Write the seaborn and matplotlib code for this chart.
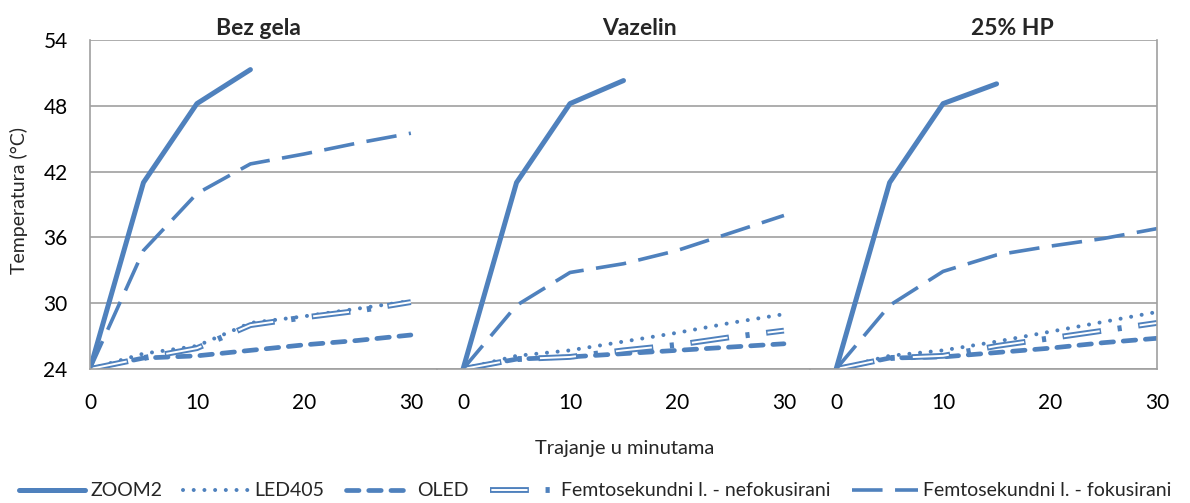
import matplotlib.pyplot as plt
import seaborn as sns
import numpy as np
from matplotlib.legend_handler import HandlerTuple

# measurement times (minutes)
minutes = [0, 5, 10, 15, 20, 25, 30]
zoom_minutes = [0, 5, 10, 15]
panels = ['Bez gela', 'Vazelin', '25% HP']

# temperatures per panel (Bez gela, Vazelin, 25% HP)
zoom2 = [[24, 41.0, 48.2, 51.3],
         [24, 41.0, 48.2, 50.3],
         [24, 41.0, 48.2, 50.0]]
led405 = [[24, 25.4, 26.1, 28.2, 28.8, 29.5, 30.2],
          [24, 25.2, 25.7, 26.5, 27.3, 28.2, 29.0],
          [24, 25.2, 25.7, 26.5, 27.4, 28.3, 29.2]]
oled = [[24, 25.0, 25.2, 25.7, 26.2, 26.6, 27.1],
        [24, 24.9, 25.1, 25.4, 25.7, 26.0, 26.3],
        [24, 25.0, 25.1, 25.5, 25.9, 26.4, 26.8]]
femto_nef = [[24, 25.0, 25.9, 28.0, 28.7, 29.3, 30.1],
             [24, 24.9, 25.1, 25.7, 26.2, 26.9, 27.5],
             [24, 25.0, 25.2, 26.1, 26.8, 27.5, 28.2]]
femto_fok = [[24, 34.8, 40.0, 42.7, 43.6, 44.6, 45.5],
             [24, 29.8, 32.8, 33.6, 34.8, 36.4, 38.0],
             [24, 29.8, 32.9, 34.4, 35.2, 35.9, 36.8]]

labels = ['ZOOM2', 'LED405', 'OLED', 'Femtosekundni l. - nefokusirani',
          'Femtosekundni l. - fokusirani']

sns.set_theme(style='white')
plt.rcParams['font.family'] = ['Lato', 'DejaVu Sans']
plt.rcParams['lines.scale_dashes'] = False

blue = '#4F81BD'
grid_col = '#a0a0a0'

fig, axes = plt.subplots(1, 3, figsize=(11.9, 5.03), dpi=100, sharey=True,
                         gridspec_kw={'width_ratios': [32.44, 34.88, 32.44], 'wspace': 0})
fig.subplots_adjust(left=0.0756, right=0.9723, top=0.9205, bottom=0.2664)

xlims = [(0, 32.44), (-2.44, 32.44), (-2.44, 30)]
title_x = [15.75, 16.5, 16.5]

for i, ax in enumerate(axes):
    sns.lineplot(x=zoom_minutes, y=zoom2[i], ax=ax, color=blue, lw=3.6,
                 errorbar=None, legend=False, label=labels[0])
    sns.lineplot(x=minutes, y=led405[i], ax=ax, color=blue, lw=2.9,
                 linestyle=(0, (0.01, 7.7)), dash_capstyle='round',
                 errorbar=None, legend=False, label=labels[1])
    sns.lineplot(x=minutes, y=oled[i], ax=ax, color=blue, lw=3.4,
                 linestyle=(0, (9, 7)), dash_capstyle='round',
                 errorbar=None, legend=False, label=labels[2])
    # double (hollow) line: thick blue dash-dot with thin white core
    sns.lineplot(x=minutes, y=femto_nef[i], ax=ax, color=blue, lw=4.2,
                 linestyle=(0, (28, 12, 3, 12)), errorbar=None, legend=False,
                 label=labels[3])
    sns.lineplot(x=minutes, y=femto_nef[i], ax=ax, color='white', lw=1.4,
                 linestyle=(54, (26, 29)), errorbar=None, legend=False)
    sns.lineplot(x=minutes, y=femto_fok[i], ax=ax, color=blue, lw=2.6,
                 linestyle=(0, (22, 9)), errorbar=None, legend=False, label=labels[4])

    ax.set_xlim(*xlims[i])
    ax.set_ylim(24, 54)
    ax.set_xticks([0, 10, 20, 30])
    ax.set_yticks(np.arange(24, 55, 6))
    ax.yaxis.grid(True, color=grid_col, lw=1.2)
    ax.xaxis.grid(False)
    ax.set_axisbelow(True)
    ax.tick_params(length=0, labelsize=15, colors='black')
    ax.tick_params(axis='x', pad=17)
    ax.tick_params(axis='y', pad=16)
    ax.set_xlabel('')
    ax.set_ylabel('')
    for side in ['top', 'left', 'right']:
        ax.spines[side].set_visible(False)
    ax.spines['bottom'].set_color(grid_col)
    ax.spines['bottom'].set_linewidth(1.2)
    ax.text(title_x[i], 54.45, panels[i], ha='center', va='baseline',
            fontsize=16.5, fontweight='bold')

axes[0].spines['left'].set_visible(True)
axes[0].spines['left'].set_color(grid_col)
axes[0].spines['left'].set_linewidth(1.2)
axes[2].spines['right'].set_visible(True)
axes[2].spines['right'].set_color(grid_col)
axes[2].spines['right'].set_linewidth(1.2)

fig.text(19 / 1190, 1 - 200 / 503, 'Temperatura (°C)', rotation=90,
         ha='center', va='center', fontsize=14)
fig.text(625 / 1190, 1 - 454 / 503, 'Trajanje u minutama', ha='center',
         va='baseline', fontsize=14.5)

ln = axes[0].get_lines()
handles = [ln[0], ln[1], ln[2], (ln[3], ln[4]), ln[5]]
fig.legend(handles=handles, labels=labels,
           handler_map={tuple: HandlerTuple(ndivide=1, pad=0)},
           loc='center', bbox_to_anchor=(0.5, 1 - 491 / 503), ncol=5,
           frameon=False, handlelength=3.4, columnspacing=1.1, handletextpad=0.25,
           fontsize=14)

fig.savefig('out.png', dpi=100)
